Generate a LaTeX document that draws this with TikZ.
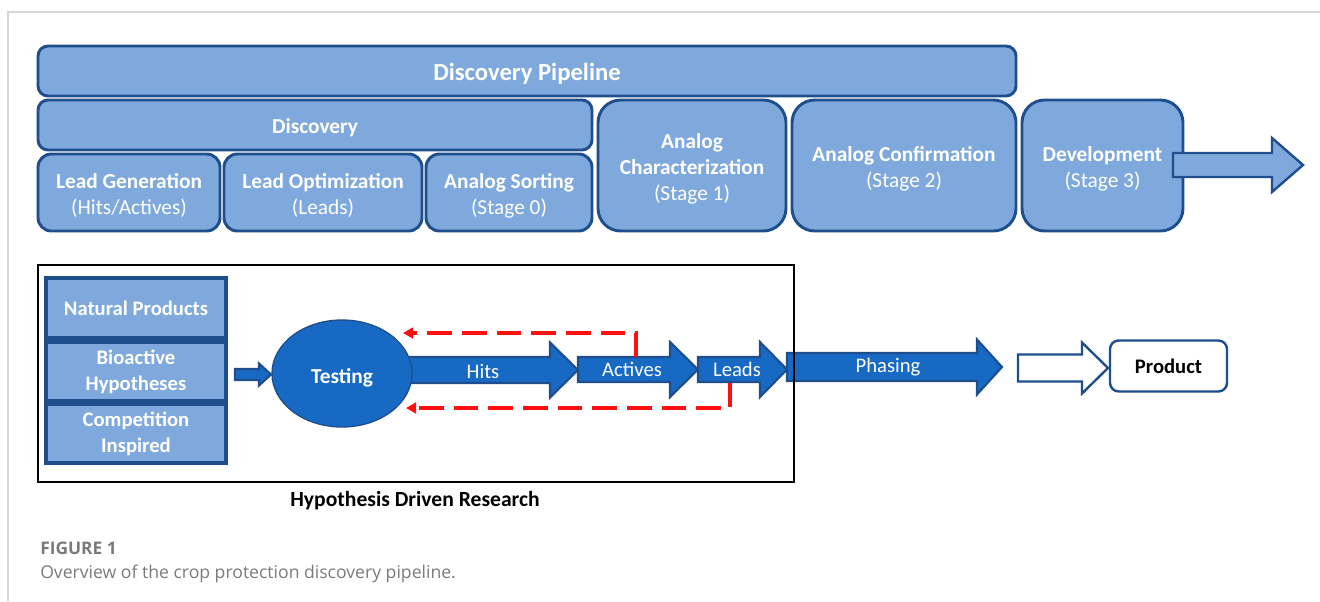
\documentclass[tikz,border=0pt]{standalone}
\usepackage{fontspec}
\setmainfont{Carlito}
\newfontfamily\capfont{Open Sans}
\usetikzlibrary{arrows.meta,shapes.geometric}

\definecolor{boxfill}{HTML}{7FA9DC}
\definecolor{boxline}{HTML}{1F4E8C}
\definecolor{arrfill}{HTML}{1769C4}
\definecolor{arrline}{HTML}{1F4E8C}
\definecolor{framegrey}{HTML}{D6D6D6}
\definecolor{capgrey}{HTML}{7A7A7A}
\definecolor{loopred}{HTML}{FF1010}

% one drawing unit = one pixel of the 1320 x 601 layout
\newcommand{\pxu}{0.75pt}

% block arrow: [style]{x start}{x head base}{x tip}{y centre}{shaft half}{head half}
\newcommand{\blockarrow}[7][]{%
  \draw[#1] (#2,{#5-#6}) -- (#3,{#5-#6}) -- (#3,{#5-#7}) -- (#4,#5)
    -- (#3,{#5+#7}) -- (#3,{#5+#6}) -- (#2,{#5+#6}) -- cycle;}

\tikzset{
  stagebox/.style={draw=boxline, line width=2.2pt, fill=boxfill,
    rounded corners=#1, inner sep=0pt},
  stagelabel/.style={text=white, align=center, inner sep=0pt, yshift=-2.2pt,
    font=\fontsize{16}{19.5}\selectfont},
  srcbox/.style={draw=boxline, line width=2.4pt, fill=boxfill,
    text=white, align=center, inner sep=0pt,
    minimum width=180*\pxu, font=\fontsize{15.5}{19.5}\selectfont\bfseries},
  flowarrow/.style={draw=arrline, line width=1.6pt, fill=arrfill},
  lightarrow/.style={draw=boxline, line width=1.8pt, fill=boxfill},
  hollowarrow/.style={draw=arrline, line width=1.8pt, fill=white},
  flowtext/.style={text=white, font=\fontsize{15.5}{18}\selectfont},
  loopback/.style={draw=loopred, line width=2.5pt,
    dash pattern=on 18.5pt off 7.5pt,
    -{Triangle[length=7.5pt,width=8pt]}},
}

\begin{document}
\begin{tikzpicture}[x=0.75pt, y=-0.75pt]
\useasboundingbox (0,0) rectangle (1320,601);

% page edge
\draw[framegrey, line width=1.5pt] (1320,12) -- (8,12) -- (8,601);

% ---- pipeline stages ----
\node[stagebox=7.5pt, minimum width=978*\pxu, minimum height=50*\pxu,
      label={[stagelabel, font=\fontsize{18.5}{22}\selectfont\bfseries]center:Discovery Pipeline}]
      (pipe) at (527,71) {};
\node[stagebox=7.5pt, minimum width=554*\pxu, minimum height=50*\pxu,
      label={[stagelabel, font=\fontsize{16}{19.5}\selectfont\bfseries]center:Discovery}]
      (disc) at (315,125) {};
\node[stagebox=10pt, minimum width=182*\pxu, minimum height=77*\pxu,
      label={[stagelabel]center:{\textbf{Lead Generation}\\(Hits/Actives)}}]
      (leadgen) at (129,192.5) {};
\node[stagebox=10pt, minimum width=198*\pxu, minimum height=77*\pxu,
      label={[stagelabel]center:{\textbf{Lead Optimization}\\(Leads)}}]
      (leadopt) at (323,192.5) {};
\node[stagebox=10pt, minimum width=166*\pxu, minimum height=77*\pxu,
      label={[stagelabel]center:{\textbf{Analog Sorting}\\(Stage 0)}}]
      (sorting) at (509,192.5) {};
\node[stagebox=17pt, minimum width=188*\pxu, minimum height=131*\pxu,
      label={[stagelabel]center:{\textbf{Analog}\\\textbf{Characterization}\\(Stage 1)}}]
      (charact) at (692,165.5) {};
\node[stagebox=17pt, minimum width=224*\pxu, minimum height=131*\pxu,
      label={[stagelabel]center:{\textbf{Analog Confirmation}\\(Stage 2)}}]
      (confirm) at (904,165.5) {};
\node[stagebox=17pt, minimum width=161*\pxu, minimum height=131*\pxu,
      label={[stagelabel]center:{\textbf{Development}\\(Stage 3)}}]
      (develop) at (1102.5,165.5) {};
\blockarrow[lightarrow]{1173}{1272}{1303}{165}{12}{27}

% ---- hypothesis driven research ----
\node[srcbox, minimum height=60*\pxu] (natural) at (136,308) {Natural Products};
\node[srcbox, minimum height=59*\pxu] (bioactive) at (136,371.5) {Bioactive\\Hypotheses};
\node[srcbox, minimum height=59*\pxu] (competition) at (136,433.5) {Competition\\Inspired};

\blockarrow[flowarrow]{235}{259}{271}{374.5}{5.5}{11}

\blockarrow[flowarrow]{405}{550}{578}{370}{13}{27.5}
\node[ellipse, draw=arrline, line width=1pt, fill=arrfill, inner sep=0pt,
      minimum width=140*\pxu, minimum height=107*\pxu,
      label={[stagelabel, yshift=-0.8pt, font=\fontsize{16}{19}\selectfont\bfseries]center:Testing}]
      (testing) at (342,373.5) {};
\node[flowtext] (hits) at (483,371) {Hits};

\blockarrow[flowarrow]{578}{670}{698}{369.5}{12.5}{27.5}
\node[flowtext] (actives) at (632,369.5) {Actives};
\blockarrow[flowarrow]{698}{760}{787}{369.5}{12.5}{27.5}
\node[flowtext] (leads) at (737,369.5) {Leads};
\blockarrow[flowarrow]{787}{977}{1002}{367}{14}{27.5}
\node[flowtext] (phasing) at (888,367) {Phasing};

\blockarrow[hollowarrow]{1018}{1082}{1108}{368}{13.5}{25.5}
\node[draw=boxline, line width=1.8pt, fill=white, rounded corners=6.5pt,
      minimum width=117*\pxu, minimum height=51*\pxu, inner sep=0pt,
      font=\fontsize{15.5}{18}\selectfont\bfseries] (product) at (1168.5,366) {Product};

% feedback loops back to testing
\coordinate (activesTop) at (636,357);
\coordinate (leadsBottom) at (730,382.5);
\coordinate (retestUp) at (403,333);
\coordinate (retestDown) at (406,408);
\draw[loopback] (activesTop) |- (retestUp);
\draw[loopback] (leadsBottom) |- (retestDown);

% research frame
\draw[black, line width=1.1pt] (38,265) rectangle (794,482);
\node[font=\fontsize{16.2}{19}\selectfont\bfseries] (hdr) at (415,501) {Hypothesis Driven Research};

% caption
\node[anchor=west, inner sep=0pt, text=capgrey,
      font=\capfont\fontsize{13}{15}\selectfont\bfseries] (figlabel) at (40,548) {FIGURE 1};
\node[anchor=west, inner sep=0pt, text=capgrey,
      font=\capfont\fontsize{13.2}{15}\selectfont] (figcaption) at (40,574)
      {Overview of the crop protection discovery pipeline.};
\end{tikzpicture}
\end{document}
